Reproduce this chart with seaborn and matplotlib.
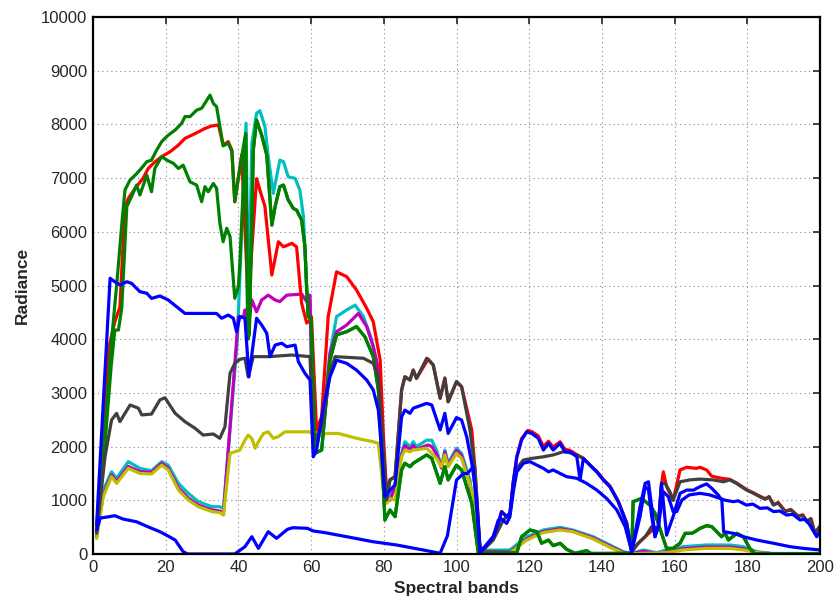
import numpy as np
import pandas as pd
import matplotlib
matplotlib.use("Agg")
import matplotlib.pyplot as plt
import seaborn as sns

# ---------------- data (vertices) ----------------
red_b = [1, 3, 4.2, 6, 7.4, 8.8, 9.7, 11.6, 13.8, 15.2, 17, 18.9, 21.2, 23.5, 25.3, 27.2, 29, 30.8, 32.6, 34.5,
         35.8, 37.2, 38.2, 39, 40.9, 42.7, 45, 45.9, 47.3, 49.2, 51, 52.4, 54.7, 56, 57.4, 58.8, 59.7, 60.1,
         61.5, 62.9, 64.7, 67, 69.8, 72.5, 75.3, 77.1, 79, 79.9, 80.8, 81.7, 83.1, 84.9, 85.8, 87.2, 88.1, 89,
         92.2, 93.6, 95.5, 96.8, 97.7, 100, 101.4, 104.2, 105.1, 106.5, 107.8, 110.1, 111.5, 112.4, 113.8,
         114.7, 115.7, 116.6, 117.9, 119.6, 120.7, 122.5, 123.9, 125.3, 126.6, 128.5, 129.8, 131.2, 133.1,
         134.9, 136.7, 138.6, 140.4, 142.2, 144.5, 146.8, 148.2, 150, 152, 154, 155.5, 156.4, 156.9, 157.8,
         159.6, 161.5, 163.3, 166, 167, 168.8, 170.2, 172.9, 175.2, 177, 179.8, 181.7, 183.5, 184.9, 186,
         187.2, 188.5, 190.4, 192, 194, 195.3, 196.3, 197.5, 198.6, 200]
red_v = [400, 2200, 3800, 4325, 4600, 6470, 6620, 6810, 7000, 7180, 7300, 7400, 7490, 7615, 7740, 7800, 7860,
         7925, 7970, 7990, 7615, 7680, 7520, 6560, 7430, 4670, 6990, 6780, 6470, 5195, 5815, 5720, 5785, 5720,
         4670, 4300, 4360, 4420, 2310, 2560, 4420, 5255, 5165, 4915, 4575, 4325, 3610, 2185, 1100, 1380, 1440,
         3055, 3300, 3240, 3425, 3270, 3630, 3520, 2900, 3280, 2835, 3210, 3115, 2310, 1565, 30, 135, 322, 570,
         790, 695, 760, 1380, 1810, 2150, 2300, 2280, 2200, 2000, 2100, 1990, 2090, 1950, 1930, 1850, 1780,
         1660, 1540, 1390, 1265, 985, 580, 43, 200, 330, 450, 480, 1300, 1530, 1255, 1000, 1565, 1615, 1595,
         1615, 1565, 1450, 1410, 1390, 1325, 1200, 1140, 1075, 1030, 1070, 920, 960, 800, 830, 705, 730, 610,
         660, 395, 520]

g2_b = [1, 3, 5, 6, 7, 7.9, 9.3, 10.6, 12, 12.9, 14.8, 16.1, 17, 18.9, 20.3, 22.1, 23.5, 24.8, 26.7, 28.5,
        29.9, 30.8, 31.7, 33.1, 34, 34.9, 35.8, 36.8, 37.7, 39, 40, 40.4, 42, 42.6, 43, 44.1, 45, 46.4, 47.8,
        49.2, 50.1, 51.4, 52.4, 53.7, 55.1, 56, 57.4, 58.3, 58.8, 59.2, 60, 61.1, 62.9, 65.2, 67, 69.8, 72.5,
        74.8, 77.1, 78.5, 79.4, 80.3, 81.7, 83.1, 84.9, 85.8, 87.2, 88.1, 91.8, 93.2, 95.5, 96.8, 97.7, 100,
        101.4, 104.2, 106, 116.6, 117.9, 120.2, 122.1, 123.4, 125.3, 126.6, 128.5, 130.3, 132.6, 135.8, 137,
        148.2, 148.6, 150.9, 153.2, 154.6, 156.4, 157.8, 159.6, 161.5, 162.9, 164.7, 165.6, 167, 168.8, 170.2,
        171.6, 172.9, 173.9, 174.8, 177.1, 178.9, 180.7, 182, 200]
g2_v = [450, 1800, 3500, 4170, 4170, 4575, 6470, 6655, 6870, 6685, 7055, 6745, 7180, 7400, 7335, 7275, 7180,
        7240, 6930, 6870, 6560, 6840, 6745, 6900, 6810, 6160, 5815, 6065, 5910, 4760, 4980, 5410, 7830, 4000,
        4100, 7520, 8080, 7800, 7430, 6125, 6470, 6840, 6870, 6595, 6435, 6405, 6220, 5720, 4915, 4420, 4390,
        1875, 1935, 3610, 4080, 4140, 4235, 4045, 3675, 3055, 1935, 633, 820, 695, 1565, 1690, 1625, 1690,
        1845, 1780, 1315, 1625, 1380, 1655, 1565, 945, 20, 25, 322, 447, 415, 200, 260, 155, 200, 87, 13, 62,
        10, 13, 975, 1035, 910, 760, 385, 105, 105, 200, 385, 385, 415, 478, 527, 510, 415, 322, 385, 260, 385,
        322, 105, 5, 5]

g1_head_b = [1, 3, 5, 6.5, 8, 8.8, 10.2, 11.6, 12.9, 14.8, 16.1, 17.5, 18.9, 20.7, 22.6, 24.4, 25.3, 26.7,
             28.5, 29.9, 31.3, 32.2, 33.1, 34, 35.8, 37.2, 38.2, 39, 40.9]
g1_head_v = [500, 2000, 3900, 5000, 6200, 6780, 6965, 7055, 7150, 7305, 7335, 7520, 7680, 7800, 7895, 8020,
             8145, 8145, 8265, 8300, 8450, 8545, 8390, 8330, 7600, 7650, 7500, 6560, 7400]

bluea_b = [1, 4.7, 6, 7.4, 9.3, 10.6, 12.9, 14.8, 16.1, 18.4, 20.7, 23, 25.3, 34, 35.4, 37.2, 38.6, 39.5,
           40.4, 41.8, 42.9, 45, 46.4, 47.8, 48.7, 50.1, 51.9, 53.3, 55.6, 56.5, 58.3, 59.7, 60.6, 61.5, 63.4,
           65.2, 67, 69.8, 72.5, 75.3, 77.1, 78.5, 79.4, 80.3, 81.7, 83.1, 84.9, 85.8, 87.2, 88.1, 91.8, 93.2,
           95.5, 96.8, 97.7, 100, 101.4, 102.8, 104.2, 105.5, 106.5, 108.3, 110.1, 111.5, 112.4, 113.8, 114.7,
           115.7, 116.6, 118.4, 120.2, 122.1, 123.9, 125.3, 126.6, 128.5, 130.3, 133.1, 135.8, 138.6, 141.3,
           144.1, 146.4, 148.2, 150.5, 151.9, 152.8, 153.7, 154.6, 155.5, 156.9, 158.3, 159.6, 160.6, 162, 164,
           167, 169.7, 172.5, 174, 176.2, 177.5, 179.8, 181.5, 183.5, 185.5, 187.2, 189, 190.8, 192.5, 194.5,
           196, 197.2, 199.1, 200]
bluea_v = [550, 5135, 5070, 5010, 5070, 5040, 4885, 4855, 4760, 4805, 4730, 4605, 4480, 4480, 4390, 4450,
           4390, 4140, 4420, 4390, 3300, 4390, 4265, 4110, 3675, 3890, 3925, 3860, 3890, 3580, 3365, 3240, 1810,
           1935, 2745, 3300, 3610, 3550, 3425, 3240, 3055, 2680, 1935, 1065, 1190, 1285, 2555, 2680, 2620, 2715,
           2805, 2775, 2310, 2620, 2245, 2540, 2495, 2185, 1690, 1065, 20, 168, 322, 633, 650, 570, 695, 1190,
           1530, 1690, 1720, 1655, 1595, 1530, 1565, 1500, 1440, 1410, 1315, 1190, 1035, 820, 510, 43, 700,
           1255, 1200, 700, 322, 500, 1160, 1065, 790, 790, 1005, 1100, 1130, 1100, 1035, 1000, 975, 990, 910,
           930, 850, 860, 790, 800, 725, 740, 633, 650, 540, 322, 420]

blueb_b = [1, 2, 4, 6, 8.3, 12, 15, 18.4, 21, 22.6, 24.8, 26, 39, 41.8, 43.7, 45.5, 48.2, 50.5, 53.5, 55,
           59, 60.6, 63.6, 69.8, 77, 83.5, 90.9, 95.5, 97.5, 100, 101.9, 103, 104.6, 106.5, 107.8, 110.1,
           111.5, 112.4, 113.8, 114.7, 115.7, 116.6, 117.9, 119.3, 120.7, 122.5, 123.9, 125.3, 126.6, 128.5,
           129.8, 131.2, 133.1, 134, 134.9, 136.7, 138.6, 140.4, 142.2, 144.5, 146.8, 148.2, 150.5, 151.9,
           152.8, 153.7, 154.6, 155.5, 156.4, 157.8, 159.6, 161.5, 163.3, 165.2, 167, 168.8, 170.2, 172, 173,
           173.5, 176.2, 178.9, 182.6, 187.2, 191.7, 195.4, 200]
blueb_v = [450, 670, 690, 713, 650, 600, 510, 415, 322, 260, 43, 0, 0, 136, 322, 105, 415, 292, 460, 490,
           478, 428, 400, 322, 229, 168, 74, 13, 340, 1378, 1500, 1500, 1625, 60, 135, 322, 570, 790, 695, 760,
           1380, 1810, 2120, 2275, 2245, 2155, 1935, 2060, 1935, 2060, 1905, 1905, 1810, 1380, 1780, 1655, 1530,
           1380, 1255, 975, 570, 43, 880, 1315, 1345, 880, 322, 510, 1315, 350, 700, 1130, 1190, 1190, 1255,
           1305, 1225, 1100, 1000, 415, 385, 322, 260, 200, 137, 105, 75]

gray_b = [1, 3.3, 5.1, 6.5, 7.4, 10.2, 12.5, 13.4, 16.1, 18.4, 19.8, 22.6, 25.3, 28.1, 30.3, 33.1, 34.9,
          36.3, 37.7, 39, 40.4, 41.8, 42.7, 44.1, 48.2, 54.7, 59.7, 60.6, 61.5, 63.4, 65.2, 66.6, 74.4, 77.1,
          78.5, 79.9, 80.8, 81.7, 83.1, 84.9, 85.8, 87.2, 88.1, 89, 91.8, 93.6, 95.5, 96.8, 97.7, 100, 101.4,
          103.7, 105.1, 106.5, 107.8, 110.1, 112.9, 114.7, 115.7, 116.6, 118.4, 120.7, 123.9, 126.6, 129.4,
          131.2, 133.1, 134.9, 136.7, 138.6, 140.4, 142.2, 144.5, 146.8, 148.2, 150, 152, 153.7, 155.5, 156.4,
          157.4, 158.7, 159.6, 161.5, 164.2, 167, 170.6, 173.4, 175.2, 177, 179.8, 181.7, 183.5, 184.9, 186,
          187.2, 188.5, 190.4, 192, 194, 195.3, 196.3, 197.5, 198.6, 200]
gray_v = [385, 1810, 2495, 2620, 2465, 2775, 2715, 2590, 2605, 2870, 2910, 2620, 2465, 2340, 2215, 2235, 2155,
          2370, 3365, 3550, 3625, 3645, 3300, 3675, 3675, 3705, 3675, 2120, 2185, 2495, 3365, 3675, 3645, 3550,
          3300, 1935, 1005, 1380, 1440, 3055, 3300, 3240, 3425, 3270, 3645, 3520, 2900, 3270, 2835, 3210, 3115,
          2310, 1565, 75, 105, 260, 633, 760, 1380, 1595, 1750, 1780, 1810, 1845, 1905, 1885, 1845, 1780, 1655,
          1530, 1380, 1255, 975, 570, 43, 200, 330, 510, 480, 1315, 1315, 1160, 1005, 1345, 1380, 1395, 1380,
          1345, 1380, 1315, 1190, 1130, 1065, 1020, 1060, 910, 950, 790, 820, 695, 720, 600, 650, 385, 510]

cyan_b = [1, 2.8, 5.1, 6.5, 9.7, 12.9, 16.1, 18.9, 20.7, 23.5, 26.2, 29, 32.7, 34.9, 35.9, 39.7, 42.1, 42.8,
          43.7, 45, 45.9, 47.3, 48.2, 49.6, 51.4, 52.4, 53.7, 55.6, 56.9, 57.9, 58.8, 59.7, 60.6, 61.2, 63.4,
          65.2, 67, 69.8, 72.1, 74.4, 76.7, 78.5, 79.9, 80.8, 81.7, 83.1, 84.9, 85.8, 87.2, 88.1, 89, 91.8,
          93.2, 94.5, 95.9, 96.8, 97.7, 100, 101.4, 103.7, 106, 114.7, 119.3, 123.9, 128.5, 132, 137.6, 142.2,
          145.9, 148, 151.4, 155, 157.8, 162.4, 168.8, 175.2, 178.9, 182.6, 187, 200]
cyan_v = [400, 1190, 1530, 1410, 1720, 1595, 1550, 1720, 1655, 1315, 1130, 975, 880, 880, 850, 3985, 8020,
          4500, 7650, 8205, 8255, 7960, 7400, 6715, 7335, 7305, 7025, 6995, 6780, 6280, 4915, 4670, 2185, 1900,
          2560, 3735, 4420, 4545, 4635, 4420, 3985, 3425, 1935, 1130, 1065, 1315, 1875, 2090, 2000, 2090, 2000,
          2120, 2120, 1935, 1625, 1935, 1690, 1970, 1875, 1380, 70, 75, 322, 447, 497, 447, 322, 168, 43, 10,
          75, 25, 75, 137, 168, 168, 137, 43, 10, 10]

mag_b = [1, 2.8, 5.1, 6.5, 9.7, 12.9, 16.1, 18.9, 20.7, 23.5, 26.2, 29, 32.7, 34.9, 35.9, 40, 41.4, 41.8,
         42.7, 43.7, 45, 46.4, 48.2, 50.1, 51.4, 53.3, 57.4, 58.8, 59.7, 60.6, 63.4, 65.2, 67, 69.8, 73, 75.3,
         77.1, 79, 79.9, 80.8, 81.7, 83.1, 84.9, 85.8, 87.2, 88.1, 89, 92.2, 93.2, 94.5, 95.9, 96.8, 97.7,
         100, 101.4, 103.7, 106, 114.7, 119.3, 123.9, 128.5, 132, 137.6, 142.2, 145.9, 148, 151.4, 155, 157.8,
         162.4, 168.8, 175.2, 178.9, 182.6, 187, 200]
mag_v = [320, 1100, 1475, 1350, 1630, 1535, 1520, 1690, 1600, 1230, 1040, 910, 820, 800, 760, 4420, 4420,
         4545, 4235, 4730, 4510, 4730, 4820, 4730, 4700, 4820, 4840, 4700, 4820, 1935, 2435, 3735, 4140, 4265,
         4480, 4235, 3860, 3300, 1900, 1060, 1000, 1250, 1840, 2020, 1950, 2020, 1950, 2030, 2000, 1860, 1600,
         1900, 1650, 1930, 1830, 1300, 50, 40, 280, 420, 470, 430, 300, 145, 30, 5, 50, 15, 40, 100, 130, 130,
         100, 30, 5, 5]

yel_b = [1, 2.8, 5.1, 6.5, 9.7, 12.9, 16.1, 18.9, 20.7, 23.5, 26.2, 29, 32.7, 34.9, 35.9, 37.7, 40.4, 41.8,
         42.7, 43.7, 44.6, 45.5, 46.9, 48.2, 49.6, 51, 52.8, 59.7, 60.6, 64.3, 67.5, 72.5, 77.1, 78.5, 79.9,
         80.8, 81.7, 83.1, 84.9, 85.8, 87.2, 88.1, 91.8, 94.5, 95.9, 96.8, 97.7, 100, 101.4, 104.2, 106.5,
         114.7, 119.3, 123.9, 128.5, 132, 137.6, 142.2, 145.9, 148, 157.8, 162.4, 168.8, 175.2, 178.9, 182.6,
         187, 200]
yel_v = [290, 1065, 1440, 1315, 1595, 1500, 1490, 1655, 1565, 1190, 1005, 880, 790, 770, 725, 1875, 1935,
         2120, 2215, 2150, 1970, 2090, 2245, 2275, 2155, 2185, 2275, 2275, 2215, 2245, 2245, 2155, 2090, 2060,
         1190, 945, 1035, 1005, 1810, 1935, 1905, 1935, 1970, 1780, 1625, 1845, 1625, 1875, 1780, 1190, 20, 20,
         260, 400, 447, 415, 280, 125, 15, 5, 25, 75, 105, 105, 75, 25, 5, 5]

# green 1 shares the later part of the spectrum with green 2
g1_b = g1_head_b + [b for b in g2_b if b >= 42]
g1_v = g1_head_v + [v for b, v in zip(g2_b, g2_v) if b >= 42]

series = [
    ("cyan", cyan_b, cyan_v, "#00bfbf"),
    ("magenta", mag_b, mag_v, "#bf00bf"),
    ("yellow", yel_b, yel_v, "#bfbf00"),
    ("red", red_b, red_v, "#ff0000"),
    ("green1", g1_b, g1_v, "#008000"),
    ("green2", g2_b, g2_v, "#008000"),
    ("gray", gray_b, gray_v, "#404040"),
    ("blue1", bluea_b, bluea_v, "#0000ff"),
    ("blue2", blueb_b, blueb_v, "#0000ff"),
]

frames = []
for name, b, v, _ in series:
    assert len(b) == len(v), name
    frames.append(pd.DataFrame({"band": b, "radiance": v, "series": name}))
df = pd.concat(frames, ignore_index=True)
palette = {name: c for name, _, _, c in series}
order = [name for name, _, _, _ in series]

# ---------------- plot ----------------
sns.set_style("white")
plt.rcParams["font.family"] = ["Liberation Sans", "DejaVu Sans"]

fig = plt.figure(figsize=(8.38, 6.08), dpi=100)
ax = fig.add_axes([93 / 838, 1 - 554 / 608, (820 - 93) / 838, (554 - 17) / 608])

sns.lineplot(data=df, x="band", y="radiance", hue="series", hue_order=order, palette=palette,
             estimator=None, sort=False, legend=False, linewidth=2.3, ax=ax)

ax.set_xlim(0, 200)
ax.set_ylim(0, 10000)
ax.set_xticks(np.arange(0, 201, 20))
ax.set_yticks(np.arange(0, 10001, 1000))
ax.grid(True, linestyle=(0, (1, 3)), color="#888888", linewidth=0.8)
ax.set_axisbelow(True)
for s in ax.spines.values():
    s.set_visible(True)
    s.set_color("black")
    s.set_linewidth(1.6)
ax.tick_params(direction="in", length=5, width=1.2, top=True, right=True, labelsize=12, pad=4)
ax.set_xlabel("Spectral bands", fontsize=12.5, fontweight="bold", labelpad=5)
ax.set_ylabel("Radiance", fontsize=12.5, fontweight="bold", labelpad=8)

fig.savefig("out.png", dpi=100)
